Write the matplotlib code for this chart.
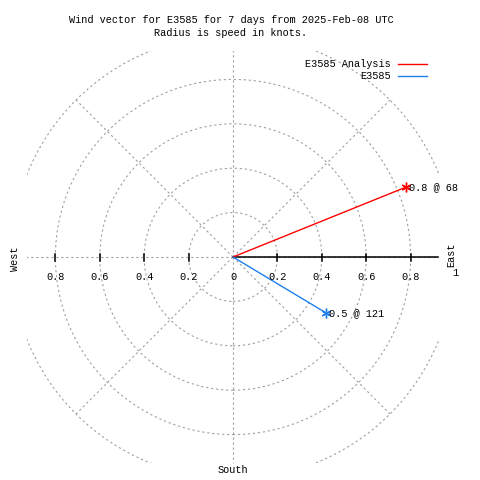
import numpy as np
import matplotlib
matplotlib.use("Agg")
import matplotlib.pyplot as plt
from matplotlib.patches import Circle, Rectangle

# data
names = ["E3585 Analysis", "E3585"]
speeds = [0.84, 0.49]          # knots
dirs = [68, 121]               # degrees, clockwise from north
labels = ["0.8 @ 68", "0.5 @ 121"]
colors = ["#ff0000", "#1f80f0"]
rings = [0.2, 0.4, 0.6, 0.8, 1.0]
spokes = [0, 45, 90, 135, 180, 225, 270, 315]
rticks = [0.2, 0.4, 0.6, 0.8]

plt.rcParams['font.family'] = ['Liberation Mono', 'DejaVu Sans Mono']
fs = 7.4
gcol = "#a0a0a0"
px = 1.0 / 222  # one pixel in data units

fig = plt.figure(figsize=(4.8, 4.8), dpi=100)
ax = fig.add_axes([0, 0, 1, 1])
ax.set_xlim(-233 * px, (480 - 233) * px)
ax.set_ylim(-(480 - 257) * px, 257 * px)
ax.axis("off")

box = Rectangle((-0.928, -0.928), 1.856, 1.856, transform=ax.transData,
                fill=False, lw=0)

# polar grid
for r in rings:
    c = Circle((0, 0), r, fill=False, ec=gcol, lw=0.8, ls=(0, (2, 2.5)))
    ax.add_patch(c)
    c.set_clip_path(box)
for a in spokes:
    t = np.radians(a)
    ln, = ax.plot([0, np.sin(t)], [0, np.cos(t)], color=gcol, lw=0.8,
                  ls=(0, (2, 2.5)))
    ln.set_clip_path(box)

# east axis with ticks
ax.plot([0, 0.923], [0, 0], color="black", lw=1.1)
for v in rticks:
    for s in (-1, 1):
        ax.plot([s * v, s * v], [-3.5 * px, 3.5 * px], color="black", lw=1.1)

ly = -19.5 * px
for v in rticks:
    ax.text(-v, ly, "%.1f" % v, ha="center", va="center", fontsize=fs)
    ax.text(v, ly, "%.1f" % v, ha="center", va="center", fontsize=fs)
ax.text(0, ly, "0", ha="center", va="center", fontsize=fs)
ax.text(1.0, ly + 3 * px, "1", ha="center", va="center", fontsize=fs)

ax.text(-218 * px, -2 * px, "West", rotation=90, ha="center", va="center", fontsize=fs)
ax.text(218 * px, 2 * px, "East", rotation=90, ha="center", va="center", fontsize=fs)
ax.text(0, -213 * px, "South", ha="center", va="center", fontsize=fs)

# wind vectors
for sp, d, lab, col in zip(speeds, dirs, labels, colors):
    t = np.radians(d)
    x, y = sp * np.sin(t), sp * np.cos(t)
    ax.plot([0, x], [0, y], color=col, lw=1.0)
    ax.plot([x], [y], marker=(6, 2, 0), color=col, ms=7, mew=1.0)
    ax.text(x + 3 * px, y, lab, ha="left", va="center", fontsize=fs)

# legend
for i, (nm, col) in enumerate(zip(names, colors)):
    yy = (257 - 64 - 11.5 * i) * px
    ax.text((391 - 233) * px, yy, nm, ha="right", va="center", fontsize=fs)
    ax.plot([(398 - 233) * px, (427 - 233) * px], [yy, yy], color=col, lw=1.0)

fig.text(231 / 480, 1 - 20 / 480,
         "Wind vector for E3585 for 7 days from 2025-Feb-08 UTC",
         ha="center", va="center", fontsize=fs)
fig.text(231 / 480, 1 - 33 / 480, "Radius is speed in knots.",
         ha="center", va="center", fontsize=fs)

fig.savefig("out.png", dpi=100)
